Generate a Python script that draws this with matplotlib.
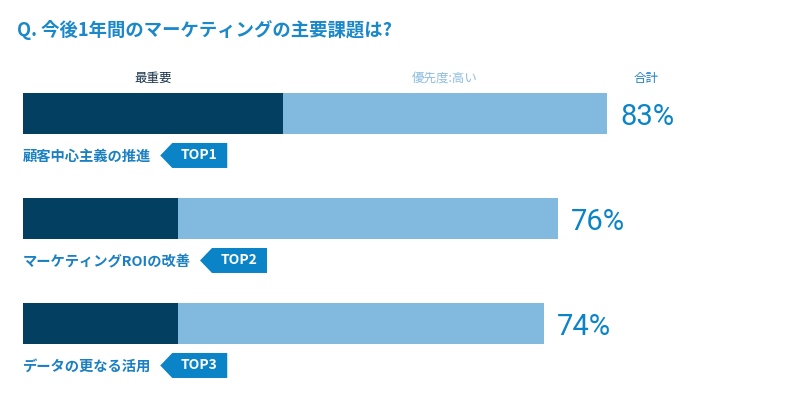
import numpy as np
import matplotlib
matplotlib.use("Agg")
import matplotlib.pyplot as plt
from matplotlib.patches import Polygon
from matplotlib.transforms import IdentityTransform

plt.rcParams['font.family'] = ['Noto Sans CJK JP', 'DejaVu Sans']

# data
categories = ["顧客中心主義の推進", "マーケティングROIの改善", "データの更なる活用"]
top_most = [37, 22, 22]       # 最重要
total = [83, 76, 74]          # 合計
ranks = ["TOP1", "TOP2", "TOP3"]
headers = ["最重要", "優先度:高い", "合計"]

DARK = "#023f60"
LIGHT = "#82b9de"
BLUE = "#0a84c6"
TEXT_BLUE = "#1b80c2"

W, H = 809, 399
fig = plt.figure(figsize=(W / 100, H / 100), dpi=100)
ax = fig.add_axes([0, 0, 1, 1])
ax.set_axis_off()

px = 7.036  # pixels per percent
ax.set_xlim(-23 / px, (W - 23) / px)
ax.set_ylim(2.719, -1.081)

y = np.arange(len(categories))
high = [t - m for t, m in zip(total, top_most)]
ax.barh(y, top_most, height=0.39, color=DARK, linewidth=0)
ax.barh(y, high, left=top_most, height=0.39, color=LIGHT, linewidth=0)

# headers above the first bar
hy = -0.338
ax.text(top_most[0] / 2, hy, headers[0], ha="center", va="center",
        fontsize=9, color="#17324a")
ax.text((top_most[0] + total[0]) / 2, hy, headers[1], ha="center", va="center",
        fontsize=9, color="#8fbde0")
ax.annotate(headers[2], xy=(total[0], hy), xytext=(28, 0), textcoords="offset points",
            ha="center", va="center", fontsize=9, color=TEXT_BLUE)

for i, t in enumerate(total):
    ax.annotate(f"{t}%", xy=(t, i), xytext=(9.4, -2.2), textcoords="offset points",
                ha="left", va="center", fontsize=21, color=BLUE,
                family=["Roboto", "DejaVu Sans"])

labels = []
for i, c in enumerate(categories):
    labels.append(ax.text(0, i + 0.414, c, ha="left", va="center", fontsize=10.3,
                          fontweight="bold", color=TEXT_BLUE))

fig.text(17 / W, 1 - 30 / H, "Q. 今後1年間のマーケティングの主要課題は?",
         ha="left", va="center", fontsize=13.2, fontweight="bold", color="#1a88c9")

# TOP tags placed after each label
fig.canvas.draw()
r = fig.canvas.get_renderer()
for lab, rk in zip(labels, ranks):
    bb = lab.get_window_extent(r)
    tip = bb.x1 + 9
    cy = (bb.y0 + bb.y1) / 2 + 1.5
    h = 12.5
    pts = [(tip, cy), (tip + 12, cy + h), (tip + 67, cy + h),
           (tip + 67, cy - h), (tip + 12, cy - h)]
    fig.add_artist(Polygon(pts, closed=True, transform=IdentityTransform(),
                           facecolor=BLUE, edgecolor="none"))
    fig.text((tip + 39) / W, cy / H, rk, ha="center", va="center",
             fontsize=10, fontweight="bold", color="white")

fig.savefig("out.png", dpi=100)
